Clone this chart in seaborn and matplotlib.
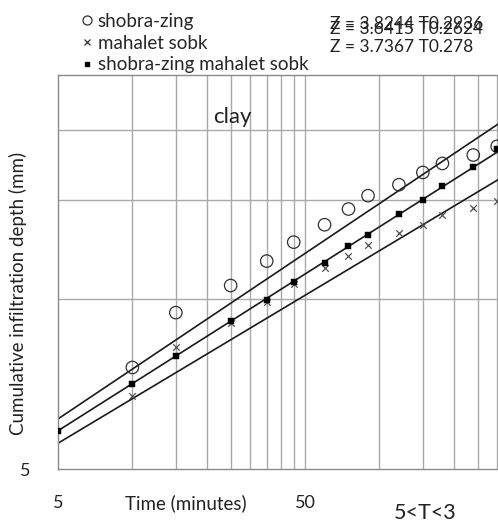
import numpy as np
import pandas as pd
import seaborn as sns
import matplotlib.pyplot as plt
from matplotlib.lines import Line2D

# Time (minutes) and cumulative infiltration depth (mm)
time_min = [5, 10, 15, 25, 35, 45, 60, 75, 90, 120, 150, 180, 240, 300]
shobra_zing = [np.nan, 7.57, 9.47, 10.58, 11.69, 12.63, 13.56, 14.46, 15.27, 15.97, 16.79, 17.42, 18.03, 18.68]
mahalet_sobk = [np.nan, 6.74, 8.23, 9.07, 9.89, 10.63, 11.35, 11.93, 12.46, 13.12, 13.57, 14.09, 14.53, 14.96]
both_sites = [5.84, 7.07, 7.92, 9.14, 9.99, 10.73, 11.61, 12.42, 13.02, 14.17, 15.00, 15.86, 17.14, 18.50]

# power trendlines Z = a * T^b shown on the chart
fit_labels = ["Z = 3.8244 T0.2936", "Z = 3.6415 T0.2624", "Z = 3.7367 T0.278"]
fit_a = [3.8244, 3.6415, 3.7367]
fit_b = [0.2936, 0.2624, 0.278]

x_grid = [10, 15, 20, 25, 30, 35, 40, 45, 50, 100, 150, 200, 250, 300]
y_grid = [10, 15, 20]

df = pd.DataFrame({"T": time_min, "sz": shobra_zing, "ms": mahalet_sobk, "both": both_sites})

sns.set_style("white")
plt.rcParams["font.family"] = ["Lato", "DejaVu Sans"]

W, H = 498, 525
fig = plt.figure(figsize=(W / 100, H / 100), dpi=100)
xmin, xmax = 5, 310
ymin, ymax = 5, 25
px_decade = 247.0
left, top, bottom = 58, 75, 469
width = px_decade * np.log10(xmax / xmin)
ax = fig.add_axes([left / W, (H - bottom) / H, width / W, (bottom - top) / H])

ax.set_xscale("log")
ax.set_yscale("log")
ax.set_xlim(xmin, xmax)
ax.set_ylim(ymin, ymax)

grid_c = "#a9a9a9"
for g in x_grid:
    ax.axvline(g, color=grid_c, lw=1.0, zorder=0)
for g in y_grid:
    ax.axhline(g, color=grid_c, lw=1.0, zorder=0)

# trendlines
t_line = np.array([xmin, xmax])
for a, b in zip(fit_a, fit_b):
    sns.lineplot(x=t_line, y=a * t_line ** b, ax=ax, color="#1a1a1a", lw=1.2, zorder=2)

sns.scatterplot(data=df, x="T", y="sz", ax=ax, marker="o", s=80,
                facecolors="none", edgecolor="#303030", linewidth=0.9, zorder=3)
sns.scatterplot(data=df, x="T", y="ms", ax=ax, marker="x", s=22,
                color="#505050", linewidth=0.9, zorder=3)
sns.scatterplot(data=df, x="T", y="both", ax=ax, marker="s", s=16,
                color="black", edgecolor="black", linewidth=0.3, zorder=4)

for side in ["left", "bottom", "top", "right"]:
    ax.spines[side].set_color("#8a8a8a")
    ax.spines[side].set_linewidth(1.0)

ax.set_xticks([5, 50])
ax.set_xticklabels(["5", "50"])
ax.set_yticks([5])
ax.set_yticklabels(["5"])
ax.minorticks_off()
ax.tick_params(axis="x", direction="out", length=6, width=1, color="#8a8a8a",
               pad=13, labelsize=13, labelcolor="#222222")
ax.tick_params(axis="y", direction="out", length=6, width=1, color="#8a8a8a",
               pad=14, labelsize=13, labelcolor="#222222")
ax.set_xlabel("")
ax.set_ylabel("")

fig.text(186 / W, 1 - 503 / H, "Time (minutes)", ha="center", va="center",
         fontsize=13.5, color="#222222")
fig.text(425 / W, 1 - 513 / H, "5<T<3", ha="center", va="center",
         fontsize=15.5, color="#222222")
fig.text(18 / W, 1 - 293 / H, "Cumulative infiltration depth (mm)", rotation=90,
         ha="center", va="center", fontsize=13.5, color="#222222")
fig.text(232 / W, 1 - 117 / H, "clay", ha="center", va="center",
         fontsize=16, color="#222222")

# equations (the first two overlap in the original chart)
eq_y = [24, 29, 47]
for lab, yy in zip(fit_labels, eq_y):
    fig.text(330 / W, 1 - yy / H, lab, ha="left", va="center",
             fontsize=12.5, color="#222222")

handles = [
    Line2D([], [], ls="none", marker="o", markersize=6.5, markerfacecolor="none",
           markeredgecolor="#303030", markeredgewidth=0.9),
    Line2D([], [], ls="none", marker="x", markersize=4, color="#303030", markeredgewidth=0.9),
    Line2D([], [], ls="none", marker="s", markersize=3.5, color="black"),
]
labels = ["shobra-zing", "mahalet sobk", "shobra-zing mahalet sobk"]
fig.legend(handles, labels, loc="upper left", bbox_to_anchor=(80 / W, 1 - 13 / H),
           frameon=False, fontsize=13.5, handlelength=0.7, handletextpad=0.25,
           labelspacing=0.25, borderpad=0, borderaxespad=0)

plt.savefig("out.png", dpi=100)
plt.close()
